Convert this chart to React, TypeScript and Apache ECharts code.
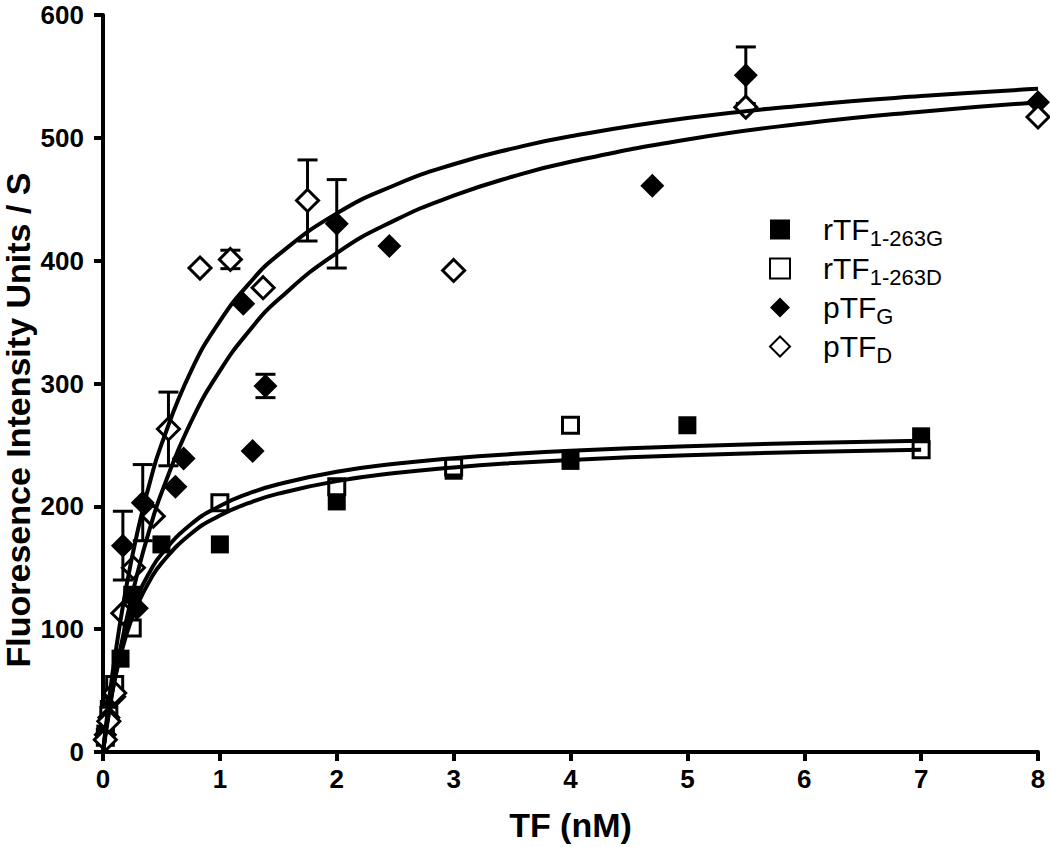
import React, { useEffect, useRef } from "react";
import * as echarts from "echarts";

// ---- Data ----
const xTicks = [0, 1, 2, 3, 4, 5, 6, 7, 8];
const yTicks = [0, 100, 200, 300, 400, 500, 600];

const rTFG_x = [0.02, 0.05, 0.1, 0.15, 0.25, 0.5, 1, 2, 3, 4, 5, 7];
const rTFG_y = [15, 35, 50, 76, 128, 169, 169, 204, 229, 237, 266, 257];

const rTFD_x = [0.02, 0.05, 0.1, 0.25, 1, 2, 3, 4, 7];
const rTFD_y = [12, 30, 55, 101, 203, 216, 232, 266, 246];

const pTFG_x = [0.02, 0.05, 0.1, 0.17, 0.29, 0.34, 0.62, 0.69, 1.2, 1.28, 1.39, 2, 2.45, 4.7, 5.5, 8];
const pTFG_y = [14, 28, 45, 168, 117, 203, 216, 239, 365, 245, 298, 430, 412, 461, 551, 529];

const pTFD_x = [0.02, 0.05, 0.1, 0.17, 0.26, 0.43, 0.56, 0.83, 1.09, 1.37, 1.75, 3, 5.5, 8];
const pTFD_y = [10, 25, 48, 113, 150, 192, 263, 394, 401, 378, 449, 392, 525, 517];

// error bars (mean, +/- sd)
const pTFG_errX = [0.17, 0.34, 1.39, 2, 5.5];
const pTFG_errY = [168, 203, 298, 430, 551];
const pTFG_errSd = [28, 31, 9.5, 36, 23];
const pTFD_errX = [0.56, 1.09, 1.75];
const pTFD_errY = [263, 401, 449];
const pTFD_errSd = [30, 7.5, 33];

// fitted curves, read at these x positions
const curveX = [0, 0.05, 0.1, 0.2, 0.3, 0.4, 0.5, 0.75, 1, 1.25, 1.5, 2, 2.5, 3, 3.5, 4, 5, 6, 7, 8];
const fitPTFUpper = [0, 40.7, 76.2, 134.8, 181.3, 219.1, 250.4, 309.4, 350.7, 381.3, 404.7, 438.5, 461.6, 478.5, 491.2, 501.3, 516.1, 526.4, 534.0, 539.9];
const fitPTFLower = [0, 31.1, 59.1, 107.4, 147.6, 181.6, 210.8, 268.1, 310.3, 342.7, 368.3, 406.2, 433.0, 452.9, 468.3, 480.5, 498.7, 511.7, 521.3, 528.8];
const fitRTFG = [0, 35.5, 62.6, 101.3, 127.6, 146.6, 161.0, 185.2, 200.3, 210.6, 218.0, 228.2, 234.7, 239.2, 242.6, 245.2, 248.9, 251.5, 253.3];
const fitRTFD = [0, 33.1, 58.6, 95.6, 120.9, 139.5, 153.6, 177.5, 192.5, 202.8, 210.3, 220.5, 227.1, 231.7, 235.2, 237.8, 241.6, 244.2, 246.0];

const seriesNames = ["rTF1-263G", "rTF1-263D", "pTFG", "pTFD"];
const legendMain = ["rTF", "rTF", "pTF", "pTF"];
const legendSub = ["1-263G", "1-263D", "G", "D"];
const xTitle = "TF (nM)";
const yTitle = "Fluoresence Intensity Units / S";

const FONT = "'Liberation Sans', Arial, Helvetica, sans-serif";

function zip(xs: number[], ys: number[]) {
  return ys.map((y, i) => [xs[i], y]);
}
function errData(xs: number[], ys: number[], sd: number[]) {
  return xs.map((x, i) => [x, ys[i] - sd[i], ys[i] + sd[i]]);
}

export default function App() {
  const ref = useRef<HTMLDivElement>(null);

  useEffect(() => {
    document.body.style.margin = "0";
    if (!ref.current) return;
    const chart = echarts.init(ref.current, undefined, { renderer: "svg" });

    const lineSeries = (data: number[][]) => ({
      type: "line",
      data,
      smooth: true,
      showSymbol: false,
      symbol: "none",
      silent: true,
      z: 4,
      lineStyle: { color: "#000", width: 4 },
    });

    const errSeries = (data: number[][]) => ({
      type: "custom",
      data,
      z: 1,
      silent: true,
      encode: { x: 0, y: [1, 2] },
      renderItem: (params: any, api: any) => {
        const x = api.value(0);
        const lo = api.coord([x, api.value(1)]);
        const hi = api.coord([x, api.value(2)]);
        const w = 10;
        const style = { stroke: "#000", lineWidth: 3 };
        return {
          type: "group",
          children: [
            { type: "line", shape: { x1: hi[0], y1: hi[1], x2: lo[0], y2: lo[1] }, style },
            { type: "line", shape: { x1: hi[0] - w, y1: hi[1], x2: hi[0] + w, y2: hi[1] }, style },
            { type: "line", shape: { x1: lo[0] - w, y1: lo[1], x2: lo[0] + w, y2: lo[1] }, style },
          ],
        };
      },
    });

    const option: any = {
      animation: false,
      backgroundColor: "#fff",
      grid: { left: 103, right: 12, top: 15, bottom: 90, containLabel: false },
      graphic: [
        {
          type: "text",
          x: 18,
          y: 420,
          rotation: Math.PI / 2,
          style: {
            text: yTitle,
            fontFamily: FONT,
            fontWeight: "bold",
            fontSize: 34,
            fill: "#000",
            textAlign: "center",
            textVerticalAlign: "middle",
          },
        },
      ],
      legend: {
        orient: "vertical",
        left: 764,
        top: 205,
        itemGap: 0,
        itemWidth: 20,
        itemHeight: 20,
        selectedMode: false,
        data: seriesNames,
        formatter: (name: string) => {
          const i = seriesNames.indexOf(name);
          return `{a|${legendMain[i]}}{b|${legendSub[i]}}`;
        },
        textStyle: {
          color: "#000",
          fontFamily: FONT,
          rich: {
            a: { fontSize: 30, lineHeight: 31, color: "#000", fontFamily: FONT, padding: [0, 0, 0, 28] },
            b: { fontSize: 22, lineHeight: 24, color: "#000", fontFamily: FONT, padding: [17, 0, 0, 0] },
          },
        },
      },
      xAxis: {
        type: "value",
        min: xTicks[0],
        max: xTicks[xTicks.length - 1],
        interval: 1,
        name: xTitle,
        nameLocation: "middle",
        nameGap: 56,
        nameTextStyle: { fontFamily: FONT, fontWeight: "bold", fontSize: 34, color: "#000" },
        splitLine: { show: false },
        axisLine: { show: true, onZero: false, lineStyle: { color: "#000", width: 4 } },
        axisTick: { show: true, length: 9, inside: false, lineStyle: { color: "#000", width: 4 } },
        axisLabel: { fontFamily: FONT, fontWeight: "bold", fontSize: 26, color: "#000", margin: 14 },
      },
      yAxis: {
        type: "value",
        min: yTicks[0],
        max: yTicks[yTicks.length - 1],
        interval: 100,
        splitLine: { show: false },
        axisLine: { show: true, onZero: false, lineStyle: { color: "#000", width: 4 } },
        axisTick: { show: true, length: 9, inside: false, lineStyle: { color: "#000", width: 4 } },
        axisLabel: { fontFamily: FONT, fontWeight: "bold", fontSize: 26, color: "#000", margin: 19 },
      },
      series: [
        errSeries(errData(pTFG_errX, pTFG_errY, pTFG_errSd)),
        errSeries(errData(pTFD_errX, pTFD_errY, pTFD_errSd)),
        {
          name: seriesNames[0],
          type: "scatter",
          data: zip(rTFG_x, rTFG_y),
          symbol: "rect",
          symbolSize: 18,
          z: 2,
          itemStyle: { color: "#000", opacity: 1 },
        },
        {
          name: seriesNames[1],
          type: "scatter",
          data: zip(rTFD_x, rTFD_y),
          symbol: "rect",
          symbolSize: 16,
          z: 2,
          itemStyle: { color: "#fff", borderColor: "#000", borderWidth: 3, opacity: 1 },
        },
        {
          name: seriesNames[2],
          type: "scatter",
          data: zip(pTFG_x, pTFG_y),
          symbol: "diamond",
          symbolSize: 24,
          z: 2,
          itemStyle: { color: "#000", opacity: 1 },
        },
        {
          name: seriesNames[3],
          type: "scatter",
          data: zip(pTFD_x, pTFD_y),
          symbol: "diamond",
          symbolSize: 22,
          z: 3,
          itemStyle: { color: "#fff", borderColor: "#000", borderWidth: 3, opacity: 1 },
        },
        lineSeries(zip(curveX, fitPTFUpper)),
        lineSeries(zip(curveX, fitPTFLower)),
        lineSeries(zip(curveX, fitRTFG)),
        lineSeries(zip(curveX, fitRTFD)),
      ],
    };

    chart.setOption(option);
    return () => chart.dispose();
  }, []);

  return <div ref={ref} style={{ width: 1050, height: 847 }} />;
}
